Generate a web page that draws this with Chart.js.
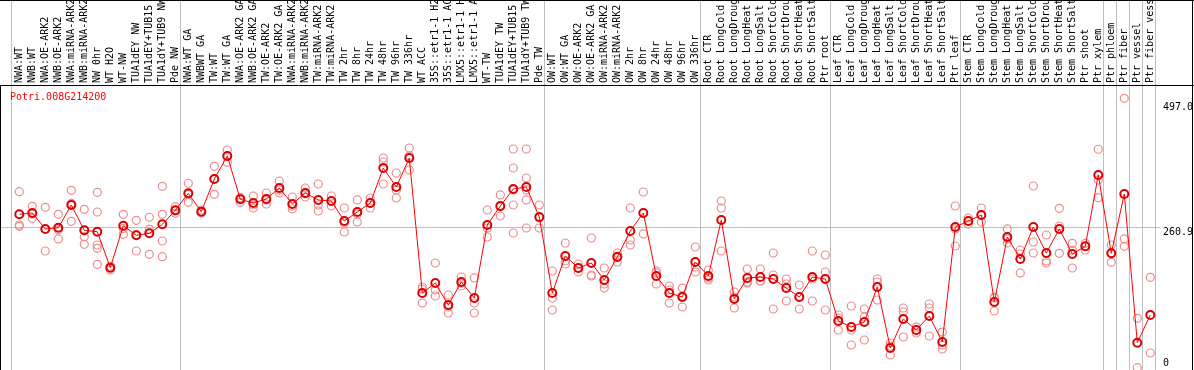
<!DOCTYPE html>
<html><head><meta charset="utf-8">
<script src="https://cdn.jsdelivr.net/npm/chart.js@4.4.0/dist/chart.umd.min.js"></script>
<style>html,body{margin:0;padding:0;background:#fff;overflow:hidden}canvas{display:block}</style>
</head><body>
<canvas id="c" width="1194" height="370"></canvas>
<script>
const geneTitle = 'Potri.008G214200';
const categories = [
 'NWA:WT','NWB:WT','NWA:OE-ARK2','NWB:OE-ARK2','NWA:miRNA-ARK2','NWB:miRNA-ARK2','NW 0hr','WT H2O','WT-NW','TUA1dEY NW',
 'TUA1dEY+TUB15 NW','TUA1dY+TUB9 NW','Pde NW','NWA:WT GA','NWBWT GA','TW:WT','TW:WT GA','NWA:OE-ARK2 GA','NWB:OE-ARK2 GA','TW:OE-ARK2',
 'TW:OE-ARK2 GA','NWA:miRNA-ARK2','NWB:miRNA-ARK2','TW:miRNA-ARK2','TW:miRNA-ARK2','TW 2hr','TW 8hr','TW 24hr','TW 48hr','TW 96hr',
 'TW 336hr','WT ACC','35S::etr1-1 H2O','35S::etr1-1 ACC','LMX5::etr1-1 H2O','LMX5::etr1-1 ACC','WT-TW','TUA1dEY TW','TUA1dEY+TUB15 TW','TUA1dY+TUB9 TW',
 'Pde TW','OW:WT','OW:WT GA','OW:OE-ARK2','OW:OE-ARK2 GA','OW:miRNA-ARK2','OW:miRNA-ARK2','OW 2hr','OW 8hr','OW 24hr',
 'OW 48hr','OW 96hr','OW 336hr','Root CTR','Root LongCold','Root LongDrought','Root LongHeat','Root LongSalt','Root ShortCold','Root ShortDrought',
 'Root ShortHeat','Root ShortSalt','Ptr root','Leaf CTR','Leaf LongCold','Leaf LongDrought','Leaf LongHeat','Leaf LongSalt','Leaf ShortCold','Leaf ShortDrought',
 'Leaf ShortHeat','Leaf ShortSalt','Ptr leaf','Stem CTR','Stem LongCold','Stem LongDrought','Stem LongHeat','Stem LongSalt','Stem ShortCold','Stem ShortDrought',
 'Stem ShortHeat','Stem ShortSalt','Ptr shoot','Ptr xylem','Ptr phloem','Ptr fiber','Ptr vessel','Ptr fiber vessel'
];
const means = [
 285.8,288.2,259.1,261.4,302.7,256.7,254.1,188.6,265.1,247.6,
 251.2,267.6,293.1,324.0,290.5,350.1,392.0,313.1,306.4,313.7,
 333.7,304.6,324.6,311.9,310.0,273.6,290.0,306.4,370.1,335.5,
 388.3,142.5,160.8,120.7,162.6,133.4,266.3,300.9,331.9,335.5,
 280.9,142.5,209.9,188.1,197.2,166.2,208.1,255.4,288.2,173.5,
 142.5,135.3,199.0,173.5,275.4,131.6,169.9,171.7,168.0,151.6,
 135.3,171.7,168.0,91.6,80.6,89.8,153.5,42.4,95.2,75.2,
 100.7,53.3,262.7,273.6,284.5,126.2,244.5,204.4,262.7,215.4,
 259.1,213.5,227.6,357.4,214.8,322.8,52.1,102.5
];
const replicates = [
 [327.0,264.0,266.3],[300.4,278.5,286.4],[298.6,219.0,259.1],[285.8,240.9,257.6],[329.5,273.1,305.7],
 [294.9,245.0,231.2],[325.9,290.0,229.9,223.9,194.8],[191.7,188.1,184.4],[285.8,249.4,260.0],[274.9,219.0,248.9],
 [280.4,258.5,213.0],[336.8,285.8,267.6,237.2,208.6],[299.7,287.6,291.8],[342.3,307.7,322.2],[293.6,290.0,288.2],
 [373.2,350.1,322.2],[402.9,392.0,380.5],[316.0,307.7,315.5],[319.1,302.7,297.3],[324.6,304.6,311.9],
 [346.4,324.6,330.1],[317.3,295.5,300.9],[333.7,317.3,322.8],[341.0,302.7,291.8],[319.1,300.9,310.0],
 [297.3,270.0,253.6],[311.9,271.8,286.4],[315.5,297.3,306.4],[388.3,381.0,341.0],[361.0,315.5,330.1],
 [406.5,366.5,392.0],[153.5,124.3,149.8],[197.2,148.0,137.1],[138.9,106.1,117.1],[171.7,155.3,160.8],
 [169.9,124.3,106.1],[293.6,244.5,260.9],[321.0,282.7,299.1],[404.7,370.1,330.1,302.7,251.8],[404.7,351.9,330.1,311.9,260.9],
 [302.7,260.9,279.1],[182.6,111.6,133.4],[233.6,195.3,200.8],[195.3,180.8,188.1],[242.7,173.5,175.3],
 [188.1,158.9,151.6],[215.4,199.0,209.9],[297.3,239.0,229.9],[326.4,250.0,288.2],[182.6,158.9,179.0],
 [155.3,124.3,148.0],[151.6,117.1,137.1],[226.3,180.8,189.9],[184.4,166.2,169.9],[310.0,219.0,297.3],
 [144.4,135.3,115.2],[186.2,160.8,162.6],[186.2,164.4,164.4],[215.4,113.4,175.3],[168.0,128.0,158.9],
 [157.1,113.4,135.3],[219.0,128.0,168.0],[211.7,111.6,180.8],[102.5,75.2,97.0],[118.9,47.9,75.2],
 [98.9,57.0,113.4],[162.6,129.8,168.0],[51.5,29.7,46.1],[115.2,62.4,108.0],[80.6,69.7,75.2],
 [115.2,64.3,122.5],[71.5,40.6,47.9],[300.9,228.1,259.1],[279.1,268.2,273.6],[297.3,271.8,284.5],
 [135.3,109.8,133.4],[259.1,233.6,240.9],[220.8,179.0,213.5],[337.3,235.4,215.4],[248.1,197.2,200.8],
 [296.7,214.8,264.5],[233.0,220.3,188.1],[233.0,220.8,228.1],[404.2,348.3,316.0],[229.9,198.4,215.4],
 [497.0,240.9,227.6],[96.5,6.6],[171.1,33.3]
];
const yTickValues = [0, 260.9, 497.0];
const yTickLabels = ['0', '260.9', '497.0'];
const yGridValues = [260.9];
const groupEnds = [0, 13, 41, 53, 63, 73, 84, 85, 86, 87, 88];

const FONT = '10px "DejaVu Sans Mono", monospace';
const meanPoints = means.map((v, i) => ({x: i + 1, y: v}));
const repPoints = [];
replicates.forEach((arr, i) => arr.forEach(v => repPoints.push({x: i + 1, y: v})));
const boundaryValues = groupEnds.map(e => e + 0.4);

const decor = {
  id: 'decor',
  afterDraw(chart) {
    const ctx = chart.ctx, xs = chart.scales.x, ys = chart.scales.y, ca = chart.chartArea;
    ctx.save();
    ctx.font = FONT; ctx.fillStyle = '#000';
    ctx.textAlign = 'left'; ctx.textBaseline = 'middle';
    categories.forEach((lab, i) => {
      const px = xs.getPixelForValue(i + 1);
      ctx.save();
      ctx.translate(px, 83);
      ctx.rotate(-Math.PI / 2);
      ctx.fillText(lab, 0, 0);
      ctx.restore();
    });
    ctx.textBaseline = 'top';
    yTickValues.forEach((v, i) => {
      let py = ys.getPixelForValue(v) - 1;
      py = Math.max(ca.top + 17, Math.min(ca.bottom - 12, py));
      ctx.fillText(yTickLabels[i], ca.right + 3, py);
    });
    ctx.fillStyle = '#ff0000';
    ctx.fillText(geneTitle, 10, ca.top + 7);
    ctx.strokeStyle = '#000'; ctx.lineWidth = 1;
    ctx.beginPath();
    ctx.moveTo(0, 0.5); ctx.lineTo(1194, 0.5);
    ctx.moveTo(0, ca.top + 0.5); ctx.lineTo(1194, ca.top + 0.5);
    ctx.moveTo(0.5, ca.top); ctx.lineTo(0.5, 370);
    ctx.moveTo(1192.5, 0); ctx.lineTo(1192.5, 370);
    ctx.stroke();
    ctx.restore();
  }
};

new Chart(document.getElementById('c'), {
  type: 'scatter',
  data: {
    datasets: [
      {
        data: meanPoints, showLine: true,
        borderColor: '#ff0000', borderWidth: 1,
        pointRadius: 4, pointBorderWidth: 2,
        pointBorderColor: '#dd0000', pointBackgroundColor: 'rgba(255,255,255,0)'
      },
      {
        data: repPoints, showLine: false,
        pointRadius: 4, pointBorderWidth: 1.2,
        pointBorderColor: '#f08c8c', pointBackgroundColor: 'rgba(255,255,255,0)'
      }
    ]
  },
  options: {
    responsive: false, animation: false, devicePixelRatio: 1,
    layout: {padding: 0, autoPadding: false},
    plugins: {legend: {display: false}, tooltip: {enabled: false}},
    scales: {
      x: {
        type: 'linear', position: 'top', min: -0.485, max: 88.746,
        afterBuildTicks(s) {
          s.ticks = categories.map((_, i) => ({value: i + 1}))
            .concat(boundaryValues.map(v => ({value: v})))
            .sort((a, b) => a.value - b.value);
        },
        afterFit(s) { s.height = 85; },
        ticks: {display: false, autoSkip: false},
        border: {display: false},
        grid: {
          color: c => (c.tick && boundaryValues.includes(c.tick.value)) ? '#c0c0c0' : 'rgba(0,0,0,0)',
          tickLength: 85, drawTicks: true, lineWidth: 1
        }
      },
      y: {
        type: 'linear', position: 'right', min: 2.37, max: 521.2,
        afterBuildTicks(s) { s.ticks = yTickValues.map(v => ({value: v})); },
        afterFit(s) { s.width = 34; },
        ticks: {display: false},
        border: {display: false},
        grid: {
          color: c => (c.tick && yGridValues.includes(c.tick.value)) ? '#c0c0c0' : 'rgba(0,0,0,0)',
          drawTicks: false
        }
      }
    }
  },
  plugins: [decor]
});
</script>
</body></html>
